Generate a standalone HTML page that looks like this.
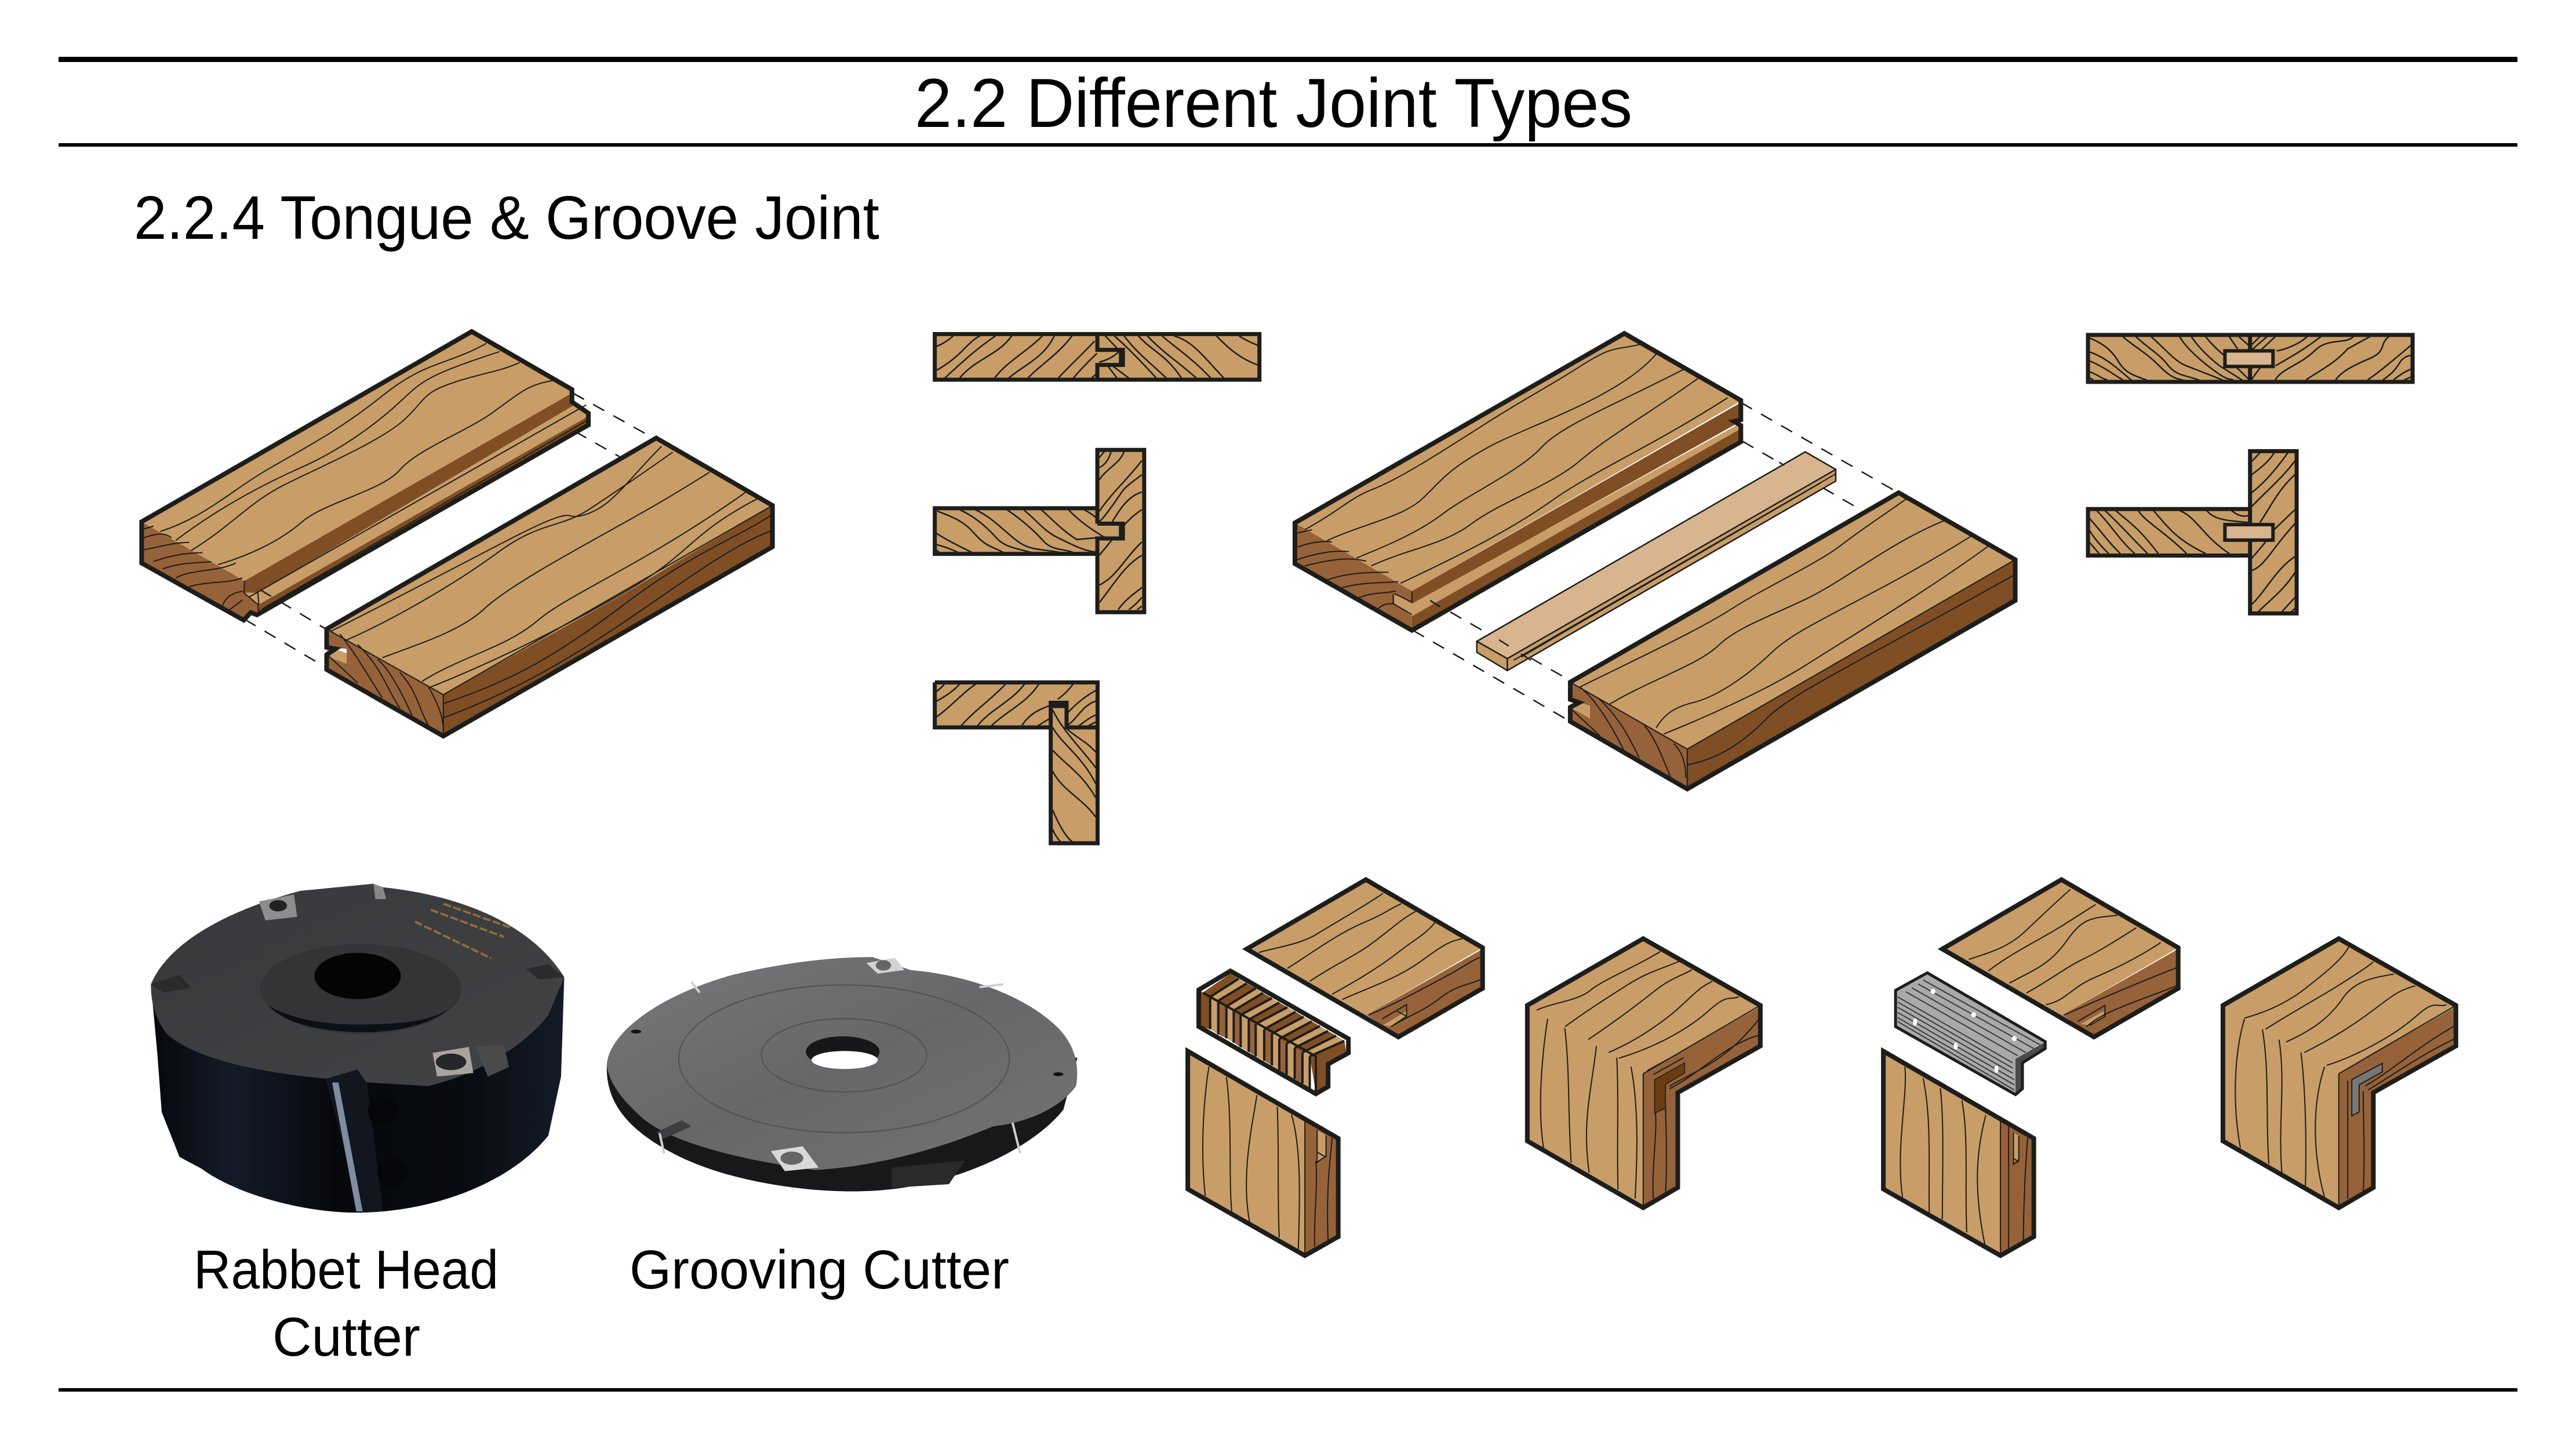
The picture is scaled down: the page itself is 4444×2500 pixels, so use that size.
<!DOCTYPE html>
<html><head><meta charset="utf-8"><title>2.2 Different Joint Types</title>
<style>
html,body{margin:0;padding:0;background:#fff}
svg{display:block}
svg *{vector-effect:non-scaling-stroke}
text{font-family:"Liberation Sans",sans-serif;fill:#000}
.g{fill:none;stroke:#1d1d1b;stroke-width:2}
.x{fill:none;stroke:#1d1d1b;stroke-width:2.5}
.o{fill:none;stroke:#1d1d1b;stroke-width:8;stroke-linejoin:miter}
.s{fill:none;stroke:#1d1d1b;stroke-width:7;stroke-linejoin:miter}
.t{fill:none;stroke:#1d1d1b;stroke-width:2.5;stroke-linejoin:miter}
.d{fill:none;stroke:#1d1d1b;stroke-width:2.5;stroke-dasharray:22 18}
.a{fill:#c89d68}.b{fill:#96623a}.c{fill:#7f4e24}.l{fill:#d8b58f}
</style></head><body>
<svg xmlns="http://www.w3.org/2000/svg" width="4444" height="2500" viewBox="0 0 4444 2500">
<defs>
<linearGradient id="bd" x1="0" x2="1" y1="0" y2="0"><stop offset="0" stop-color="#06080c"/><stop offset=".2" stop-color="#141b28"/><stop offset=".45" stop-color="#06080c"/><stop offset=".75" stop-color="#080b10"/><stop offset="1" stop-color="#141b28"/></linearGradient>
<linearGradient id="fc" x1="0" x2="1" y1="0" y2="1"><stop offset="0" stop-color="#37383b"/><stop offset="1" stop-color="#424345"/></linearGradient>
<linearGradient id="gf" x1="0" x2="1" y1="0" y2="1"><stop offset="0" stop-color="#77787a"/><stop offset=".5" stop-color="#666769"/><stop offset="1" stop-color="#737476"/></linearGradient>
</defs>
<rect width="4444" height="2500" fill="#fff"/>
<rect x="101" y="98" width="4242" height="9" fill="#000"/>
<rect x="101" y="247" width="4242" height="6" fill="#000"/>
<rect x="101" y="2395" width="4242" height="6" fill="#000"/>
<text x="1578" y="219" font-size="120" textLength="1238" lengthAdjust="spacingAndGlyphs">2.2 Different Joint Types</text>
<text x="231" y="412" font-size="106" textLength="1286" lengthAdjust="spacingAndGlyphs">2.2.4 Tongue &amp; Groove Joint</text>
<text x="334" y="2223" font-size="95" textLength="526" lengthAdjust="spacingAndGlyphs">Rabbet Head</text>
<text x="470" y="2339" font-size="95" textLength="255" lengthAdjust="spacingAndGlyphs">Cutter</text>
<text x="1086" y="2223" font-size="95" textLength="655" lengthAdjust="spacingAndGlyphs">Grooving Cutter</text>

<!-- Z1 tongue & groove -->
<g transform="translate(200,520) scale(.7653,.5102)">
<path class="d" d="M1030,310L1215,465M1035,440L1135,525M325,975L470,1105M290,1075L470,1235"/>
<polygon class="b" points="58,745 290,945 288,1078 58,885"/>
<polygon class="b" points="288,985 322,1025 322,1060 304,1052 288,1078"/>
<polygon class="a" points="58,745 802,102 1028,298 1028,310 290,945"/>
<polygon class="c" points="290,945 1028,310 1028,340 1036,348 320,985 288,985"/>
<polygon class="a" points="320,985 1036,348 1065,378 1065,388 322,1025 288,985"/>
<polygon class="c" points="322,1025 1065,388 1065,418 318,1060 322,1060"/>
<path class="g" d="M100,778C200,730 260,640 340,570S500,440 600,320S740,220 835,142M135,808C230,700 330,620 420,560S590,410 640,340S700,250 865,170M170,842C260,760 300,680 380,620S600,470 650,400S690,310 760,275S860,240 910,207M230,890C300,860 370,810 420,745S600,640 640,570S790,440 850,375S930,280 985,268"/>
<path class="g" d="M62,770L85,760M62,800C90,785 110,780 125,800M62,840C100,830 130,815 165,815M85,880C120,860 160,850 195,850M105,905C150,880 190,885 215,880M135,935C170,905 230,915 270,885M165,965C210,945 250,955 285,935M240,1030C250,990 270,985 285,980M250,1050L285,1010"/>
<path class="g" d="M290,945L288,985L320,1025L322,1060M320,985L322,1025M330,1040L1065,400M300,1000L1060,350"/>
<polygon class="o" points="58,745 802,102 1028,298 1028,340 1065,378 1065,418 318,1060 304,1052 288,1078 58,885"/>
<polygon class="c" points="738,1330 1150,975 1300,845 1480,690 1480,830 738,1470"/>
<polygon class="a" points="475,1108 1218,462 1480,690 1300,850 1150,985 738,1330"/>
<polygon class="b" points="475,1108 738,1330 738,1470 475,1245 475,1200 520,1225 520,1175 475,1170"/>
<polygon class="a" points="475,1200 475,1180 495,1175 520,1190 520,1225"/>
<path class="g" d="M485,1115C560,1060 700,950 880,810S1000,750 1060,720S1150,610 1230,490M520,1145C620,1080 760,960 860,850S1000,770 1070,700S1170,600 1255,510M600,1205C700,1150 780,1110 830,1040S1000,870 1120,770S1260,650 1338,578M690,1285C780,1200 880,1170 950,1080S1190,890 1420,645M708,1305C850,1220 1000,1110 1150,980S1290,790 1445,668"/>
<path class="g" d="M738,1360C900,1280 1000,1190 1150,1020S1400,800 1478,722M738,1408C880,1330 1000,1230 1130,1100S1380,830 1478,775"/>
<path class="g" d="M505,1125C540,1190 570,1270 600,1340M545,1160C600,1240 610,1310 640,1375M590,1210C620,1250 650,1340 670,1410M640,1255C680,1320 680,1370 705,1435M705,1305C730,1370 740,1420 738,1460M480,1200L545,1290"/>
<polygon class="o" points="475,1108 1218,462 1480,690 1480,830 738,1470 475,1245 475,1195 495,1175 475,1170"/>
<path class="g" d="M475,1108L738,1330L1480,690M738,1330V1470"/>
<path class="d" d="M325,975L375,1020M1030,310L1060,335"/>
</g>

<!-- Z2 cross sections -->
<g transform="translate(1580,540) scale(.4082,.6059)">
<rect class="a" x="80" y="60" width="1372" height="130"/>
<path class="x" d="M88,95Q125,85 158,65M88,163Q150,140 200,105T272,65M118,188C180,150 240,110 337,65M182,188C250,130 350,120 405,65M330,188C380,140 470,110 535,65M388,188C450,150 540,130 585,65M470,188C520,150 600,120 660,65M598,188C650,150 700,120 755,80M662,188Q710,150 765,115M738,188L760,175M800,65L850,100M838,65Q900,100 1020,188M880,65C930,110 970,130 1063,188M940,65C1000,110 1060,120 1125,188M978,65C1040,110 1110,140 1190,188M1040,65C1100,100 1170,130 1250,188M1090,65C1170,80 1210,120 1305,188M1270,65C1320,100 1370,130 1445,148M1365,65Q1400,80 1445,92M810,150L853,188M830,150L905,188"/>
<rect class="s" x="80" y="60" width="1372" height="130"/>
<polygon class="a" points="770,110 858,110 858,140 770,140"/>
<path class="x" d="M775,140Q830,130 858,110"/>
<path class="s" d="M767,60V105H875V148H767V190"/>
<rect x="858" y="102" width="23" height="50" fill="#1d1d1b"/>

<rect class="a" x="770" y="390" width="195" height="462"/>
<rect class="a" x="80" y="556" width="690" height="130"/>
<path class="x" d="M90,564C150,580 200,590 250,630S350,670 378,686M185,560C250,580 300,610 340,640S430,670 510,686M250,560C320,580 370,620 430,650S540,670 635,686M385,560C450,590 500,620 540,650S640,670 675,686M455,560C510,590 540,620 600,640S720,680 760,680M530,560C580,590 620,620 680,645L765,640M645,560Q700,600 800,640M710,560Q740,570 765,585M88,628C140,650 200,670 250,686M88,660C120,665 160,675 190,686M88,675L105,686"/>
<path class="x" d="M775,412L800,392M775,440Q810,430 825,395M775,475C810,440 860,430 880,395M775,565C830,510 900,470 955,420M775,595C800,580 850,530 870,510S940,470 955,460M830,595C860,560 900,520 955,510M880,605Q910,580 955,560M775,690Q800,670 830,645M775,775C850,750 880,700 955,652M775,825C840,770 880,720 955,690M855,845C880,820 920,800 955,782M900,845Q930,830 955,810M935,845L955,835"/>
<path class="s" d="M767,600V390H965V852H767V642H875V600H767M767,556H80V686H767"/>
<rect x="858" y="596" width="23" height="50" fill="#1d1d1b"/>

<rect class="a" x="80" y="1052" width="688" height="128"/>
<rect class="a" x="570" y="1180" width="198" height="330"/>
<path class="x" d="M88,1078L120,1058M88,1105C130,1090 170,1070 185,1056M88,1150C150,1120 200,1080 255,1056M188,1178C250,1130 320,1100 380,1056M258,1178C310,1130 400,1110 460,1056M315,1178C390,1130 470,1110 520,1056M445,1178C480,1140 520,1130 565,1118M510,1178L565,1155M600,1100Q640,1080 665,1056M640,1140C680,1110 720,1090 760,1075M640,1175C690,1150 700,1120 760,1105M690,1175C720,1160 740,1150 760,1145M730,1175L760,1165"/>
<path class="x" d="M640,1185C680,1210 720,1220 760,1250M578,1130C620,1190 700,1240 760,1295M578,1180C620,1230 700,1260 760,1340M578,1245C640,1290 700,1310 760,1380M578,1305C620,1360 700,1380 760,1435M578,1415C600,1450 630,1490 660,1505M578,1470Q590,1490 610,1505"/>
<path class="s" d="M80,1052H768V1510H570V1110H637V1180H768M570,1180H80V1052"/>
<rect x="566" y="1105" width="76" height="20" fill="#1d1d1b"/>
</g>

<!-- Z3 spline joint -->
<g transform="translate(2200,540) scale(.8482,.5421)">
<path class="d" d="M947,285L1265,570M950,408L1195,630M280,1010L600,1300M315,915L600,1170"/>
<polygon class="b" points="40,668 278,885 278,1010 40,798"/>
<polygon class="a" points="40,668 710,65 947,280 278,885"/>
<polygon class="c" points="278,885 947,285 947,345 278,928"/>
<polygon class="a" points="278,925 947,350 947,368 278,965"/>
<polygon class="c" points="278,965 947,368 947,408 278,1010"/>
<polygon class="a" points="242,893 278,925 278,965 242,925"/>
<path class="g" d="M240,895V925L278,960M278,885V920L242,893"/>
<path class="g" d="M60,690C140,620 150,590 200,560S330,450 420,360S550,240 620,170S690,120 742,100M105,725C180,670 260,650 300,590S350,500 430,430S700,270 775,130M165,780C220,745 290,700 340,640S500,500 540,430S680,300 830,180M195,805C270,750 340,740 400,670S560,550 620,470S760,320 860,208M255,860C350,790 470,700 560,600S760,430 920,270"/>
<path class="g" d="M45,700L75,690M45,745C80,725 110,725 115,730M45,785C90,760 130,755 150,760M60,805C110,785 150,775 185,790M105,850C150,825 200,825 230,825M135,875C180,855 220,860 250,855M165,910C200,885 220,895 245,885M205,950C215,925 230,925 242,925"/>
<polygon class="o" points="40,668 710,65 947,278 947,340 933,345 947,358 947,410 278,1010 40,798"/>
<polygon class="a" points="410,1045 472,1100 472,1138 410,1080"/>
<polygon class="a" points="472,1100 1140,498 1140,535 472,1138"/>
<polygon class="l" points="410,1045 1078,442 1140,498 472,1100"/>
<path class="g" d="M485,1105L1140,512M500,1095L1110,540"/>
<polygon class="t" points="410,1045 1078,442 1140,498 1140,535 472,1138 410,1080"/>
<path class="t" d="M410,1045L472,1100L1140,498M472,1100V1138"/>
<polygon class="c" points="838,1388 1505,785 1505,915 838,1515"/>
<polygon class="a" points="600,1175 1268,572 1505,785 838,1388"/>
<polygon class="b" points="600,1175 838,1388 838,1515 600,1300 600,1255 640,1290 640,1250 600,1230"/>
<polygon class="a" points="600,1255 620,1240 640,1250 640,1290"/>
<path class="g" d="M620,1190C750,1090 860,1010 930,940S1100,800 1150,740S1250,630 1285,590M680,1245C760,1170 860,1120 900,1060S1000,970 1080,910S1250,730 1365,658M775,1320C790,1280 810,1255 850,1240S950,1170 1010,1080S1200,920 1418,708M790,1340C870,1290 1000,1200 1080,1120S1330,880 1452,740"/>
<path class="g" d="M838,1438C900,1420 950,1370 1000,1290S1200,1100 1505,832"/>
<path class="g" d="M620,1190C650,1230 680,1300 710,1395M660,1230C700,1290 720,1350 740,1415M750,1310C780,1370 790,1430 805,1480M810,1370C830,1400 835,1440 835,1480M605,1265L660,1345"/>
<polygon class="o" points="600,1175 1268,572 1505,785 1505,915 838,1515 600,1300 600,1255 618,1240 600,1230"/>
<path class="g" d="M600,1175L838,1388L1505,785M838,1388V1515"/>
<path class="d" d="M455,1040L475,1060M500,1085L520,1105M315,915L335,935M1025,475L1035,485"/>
</g>

<!-- Z4 spline sections -->
<g transform="translate(3560,540) scale(.4082,.3444)">
<rect class="a" x="103" y="110" width="1372" height="235"/>
<path class="x" d="M110,125C160,150 200,180 230,240S290,310 360,340M110,195C170,220 210,260 250,300S280,330 290,340M110,240C170,270 200,300 250,335M110,295C140,305 160,330 185,335M110,325L125,335M250,118C300,170 350,200 400,260S470,330 520,340M305,118C350,170 400,200 440,260S520,310 580,340M370,118C420,170 470,240 510,260S620,310 680,340M490,118C520,180 590,250 650,300S700,320 720,340M540,118C580,190 650,260 680,280L760,340M600,118C640,180 690,220 720,260L785,335M700,118L735,180M740,118L785,165"/>
<path class="x" d="M790,165L830,118M795,185L860,118M830,190L895,118M900,190C950,180 1000,150 1030,118M895,265C930,240 1010,190 1088,118M895,335C920,280 1000,260 1060,190S1190,160 1225,118M1025,335C1080,290 1150,250 1200,180L1295,118M1150,335C1170,300 1210,270 1290,230S1330,160 1375,118M1285,335C1330,300 1400,230 1470,160M1350,335C1380,310 1400,290 1420,250S1470,215 1470,210M1395,335C1420,310 1450,290 1470,280M1440,335L1470,320M790,340L830,275M790,285L800,270"/>
<rect class="s" x="103" y="110" width="1372" height="235"/>
<path class="s" d="M788,110V345"/>
<rect class="l" x="682" y="190" width="203" height="78" stroke="#1d1d1b" stroke-width="6"/>
<rect x="788" y="692" width="197" height="813" class="a"/>
<rect x="103" y="982" width="685" height="233" class="a"/>
<path class="x" d="M110,1030C150,1080 190,1150 240,1205M110,1090C130,1130 160,1170 190,1205M110,1150L150,1205M140,990C200,1060 230,1130 300,1205M175,990C240,1060 290,1130 355,1205M220,990C280,1050 320,1080 400,1205M315,990C350,1050 420,1090 520,1205M380,990C440,1070 470,1130 600,1205M490,990C560,1020 590,1120 700,1205M605,990C640,1040 700,1040 785,1050M710,990C740,1020 760,1020 785,1015M790,750L830,700M795,810C840,770 870,740 890,700M795,900C850,850 900,780 948,700M795,970C850,900 930,820 978,740M830,1050C870,980 910,880 978,810M890,1085L978,985M795,1230L855,1145M795,1290C850,1270 880,1180 978,1055M795,1460C850,1400 900,1280 978,1220M820,1500C870,1440 930,1390 978,1300M920,1500L978,1425M960,1500L978,1480"/>
<path class="s" d="M788,1052V692H985V1505H788V1140M788,982H103V1215H788"/>
<rect class="l" x="682" y="1060" width="203" height="78" stroke="#1d1d1b" stroke-width="6"/>
</g>

<!-- Z5 cutters -->
<g transform="translate(200,1490) scale(1.097,.4082)">
<path fill="url(#bd)" d="M55,510L65,800L72,1050L100,1240L135,1290C190,1400 300,1480 385,1475C500,1470 620,1350 680,1150L700,900L705,480Z"/>
<path fill="url(#fc)" d="M55,510C80,350 160,210 290,115L405,85L420,100C530,130 650,240 705,480L680,640C640,780 560,900 490,940L395,925L335,910C250,890 130,840 80,720C60,650 55,580 55,510Z"/>
<ellipse cx="385" cy="530" rx="158" ry="190" fill="#333436"/>
<path d="M240,600C270,690 340,715 400,712C470,705 520,650 538,570C520,660 460,680 380,680C320,680 270,650 240,600Z" fill="#0c0f15"/>
<ellipse cx="380" cy="475" rx="68" ry="98" fill="#040404"/>
<polygon points="225,160 280,130 285,225 235,240" fill="#8d8d8d"/><ellipse cx="255" cy="178" rx="14" ry="24" fill="#222"/>
<polygon points="498,800 555,775 562,885 505,900" fill="#a9a49d"/><ellipse cx="527" cy="838" rx="24" ry="35" fill="#26272a"/>
<polygon points="565,775 610,765 618,860 585,900" fill="#4a4a4c"/>
<polygon points="55,510 100,470 118,525 75,545" fill="#2a2b2d"/>
<polygon points="645,445 680,425 705,480 665,490" fill="#2a2b2d"/>
<polygon points="330,910 380,870 395,930 420,1470 385,1475" fill="#12161f"/>
<polygon points="340,925 350,925 388,1470 378,1470" fill="#7e8da0"/>
<ellipse cx="420" cy="1045" rx="24" ry="60" fill="#050608"/><ellipse cx="435" cy="1305" rx="24" ry="60" fill="#050608"/>
<polygon points="405,85 420,100 425,150 408,150" fill="#888"/>
<path d="M515,170L620,270M495,195L610,310M470,245L590,400" stroke="#8f6a3a" stroke-width="4" fill="none" stroke-dasharray="14 4"/>
<path fill="#17181a" d="M772,850C770,1000 800,1120 880,1230C960,1340 1080,1390 1170,1385C1310,1380 1440,1210 1490,1040L1512,820Z"/>
<path fill="url(#gf)" d="M772,850C775,720 850,560 970,470C1050,420 1120,395 1190,395L1250,450C1340,470 1430,560 1480,690C1510,770 1515,860 1510,940C1480,1050 1420,1100 1380,1110C1300,1200 1200,1280 1100,1295C1000,1260 880,1190 830,1080C800,1010 775,930 772,850Z"/>
<ellipse cx="1145" cy="825" rx="260" ry="312" fill="none" stroke="#505153" stroke-width="2"/>
<ellipse cx="1145" cy="810" rx="130" ry="155" fill="none" stroke="#505153" stroke-width="2"/>
<ellipse cx="1143" cy="795" rx="58" ry="65" fill="#17171a"/>
<ellipse cx="1146" cy="830" rx="52" ry="38" fill="#fff"/>
<polygon points="1180,420 1225,398 1240,450 1198,465" fill="#d0d2d3"/><ellipse cx="1207" cy="430" rx="12" ry="22" fill="#666"/>
<polygon points="1030,1215 1080,1195 1105,1285 1052,1300" fill="#d8d9da"/><ellipse cx="1063" cy="1245" rx="18" ry="28" fill="#666"/>
<polygon points="1220,1285 1335,1255 1310,1355 1220,1370" fill="#2a2a2d"/>
<polygon points="850,1135 890,1085 905,1110 860,1165" fill="#3c3d40"/>
<path d="M855,1140L862,1225M1410,1095L1422,1225M905,500L918,545M1358,522L1395,510" stroke="#cfd0d2" stroke-width="4" fill="none"/>
<circle cx="818" cy="710" r="8" fill="#111"/><circle cx="1482" cy="890" r="8" fill="#111"/>
</g>

<!-- Z6 biscuit -->
<g transform="translate(2000,1490) scale(.7015,.4464)">
<polygon class="b" points="510,585 795,330 795,482 588,670"/>
<polygon class="a" points="215,330 508,62 795,325 510,585 588,670"/>
<polygon class="a" points="550,625 608,570 608,590 572,630"/>
<path class="g" d="M548,600L608,545V590L570,630M585,570L608,590"/>
<path class="g" d="M245,343C300,320 350,310 390,270S500,170 550,115M315,405C380,340 440,270 500,230S560,180 595,155M370,455C430,390 480,360 530,300S600,210 630,185M425,505C500,440 550,390 590,340S650,280 678,228M450,525C530,470 590,440 650,370S720,300 745,290M515,585C570,550 640,490 700,440S770,370 795,360M570,630C610,590 650,570 690,520S760,470 795,445"/>
<polygon class="o" points="215,330 508,62 795,325 795,482 588,670"/>
<g>
<polygon class="c" points="108,497 175,425 195,445 125,515"/>
<polygon class="a" points="125,515 195,445 215,463 145,530"/>
<polygon class="c" points="145,530 215,463 237,482 165,552"/>
<polygon class="a" points="165,552 237,482 255,500 183,568"/>
<polygon class="c" points="183,568 255,500 277,520 200,585"/>
<polygon class="a" points="200,585 277,520 295,537 220,603"/>
<polygon class="c" points="220,603 295,537 315,555 237,620"/>
<polygon class="a" points="237,620 315,555 335,573 258,640"/>
<polygon class="c" points="258,640 335,573 355,592 277,657"/>
<polygon class="a" points="277,657 355,592 375,610 295,677"/>
<polygon class="c" points="295,677 375,610 395,628 313,695"/>
<polygon class="a" points="313,695 395,628 415,647 333,712"/>
<polygon class="c" points="333,712 415,647 435,665 352,730"/>
<polygon class="a" points="352,730 435,665 455,685 370,745"/>
<polygon class="c" points="370,745 455,685 460,730 415,770 415,860 385,885"/>
<polygon class="c" points="100,490 125,515 125,640 100,628"/>
<polygon class="a" points="125,515 145,530 145,660 125,640"/>
<polygon class="b" points="145,530 165,552 165,675 145,660"/>
<polygon class="a" points="165,552 183,568 183,692 165,675"/>
<polygon class="b" points="183,568 200,585 200,710 183,692"/>
<polygon class="a" points="200,585 220,603 220,728 200,710"/>
<polygon class="b" points="220,603 237,620 237,745 220,728"/>
<polygon class="a" points="237,620 258,640 258,762 237,745"/>
<polygon class="b" points="258,640 277,657 277,780 258,762"/>
<polygon class="a" points="277,657 295,677 295,798 277,780"/>
<polygon class="b" points="295,677 313,695 313,815 295,798"/>
<polygon class="a" points="313,695 333,712 333,832 313,815"/>
<polygon class="b" points="333,712 352,730 352,850 333,832"/>
<polygon class="a" points="352,730 370,745 370,868 352,850"/>
<path d="M125,515V640M145,530V660M165,552V675M183,568V692M200,585V710M220,603V728M237,620V745M258,640V762M277,657V780M295,677V798M313,695V815M333,712V832M352,730V850M370,745V868M125,515L195,445M145,530L215,463M165,552L237,482M183,568L255,500M200,585L277,520M220,603L295,537M237,620L315,555M258,640L335,573M277,657L355,592M295,677L375,610M313,695L395,628M333,712L415,647M352,730L435,665M370,745L455,685" fill="none" stroke="#1d1d1b" stroke-width="4"/>
<polyline points="108,500 385,745 385,885" fill="none" stroke="#1d1d1b" stroke-width="4"/>
</g>
<polygon class="o" points="97,488 175,415 465,677 465,732 415,775 415,862 385,890 97,630"/>
<polygon class="a" points="70,725 358,985 358,1515 70,1258"/>
<polygon class="b" points="358,985 440,1062 440,1442 358,1515"/>
<polygon class="a" points="388,1030 410,1050 410,1130 388,1150"/>
<path class="g" d="M388,1030V1155L410,1130V1050M388,1115L410,1135M122,785C110,900 100,1100 113,1285M165,825C180,1000 170,1200 178,1345M240,895C230,1000 200,1200 222,1385M290,940C295,1100 290,1300 295,1445M325,970C350,1100 345,1300 342,1490M358,985V1515M425,1060C420,1150 410,1250 415,1460M385,1150C390,1250 380,1350 382,1480"/>
<polygon class="o" points="70,725 440,1062 440,1442 358,1515 70,1258"/>
<polygon class="b" points="1190,812 1478,552 1478,705 1272,885 1190,815"/>
<polygon class="b" points="1190,812 1272,885 1272,1252 1190,1330"/>
<polygon class="a" points="905,548 1190,290 1478,548 1190,812"/>
<polygon class="a" points="905,548 1190,812 1190,1330 905,1072"/>
<polygon points="1218,835 1292,770 1292,810 1245,853 1245,945 1218,965" fill="#6a3d10" stroke="#1d1d1b" stroke-width="1.5"/>
<path class="g" d="M928,567C960,540 1030,530 1060,490S1170,400 1232,340M998,630C1050,570 1100,520 1150,470S1230,410 1278,378M1055,680C1130,600 1180,540 1220,490S1290,430 1310,410M1105,730C1180,680 1250,600 1290,540S1340,470 1360,455M1130,752C1220,710 1300,640 1350,570S1400,530 1425,515M955,600C940,750 930,950 945,1100M997,635C1010,800 1005,1000 1013,1155M1075,705C1060,900 1040,1000 1057,1195M1125,750C1130,900 1125,1100 1128,1260M1160,785C1180,950 1175,1150 1170,1295M1190,812V1330M1190,812L1478,548M1215,1295C1210,1180 1225,1040 1220,965M1245,1275C1250,1120 1245,1000 1245,945M1255,860C1330,790 1390,770 1478,595M1255,870C1340,800 1390,700 1478,662M1200,800L1275,735M1215,815L1290,750"/>
<polygon class="o" points="905,548 1190,290 1478,548 1478,705 1275,885 1275,1252 1190,1330 905,1072"/>
</g>

<!-- Z7 metal -->
<g transform="translate(3200,1490) scale(.7015,.4464)">
<polygon class="b" points="510,585 795,330 795,482 588,670"/>
<polygon class="a" points="215,330 508,62 795,325 510,585 588,670"/>
<polygon class="a" points="555,620 612,570 612,590 575,625"/>
<path class="g" d="M548,610L615,548V590L578,625M280,370C340,340 380,320 420,260S500,140 530,100M328,415C390,340 460,290 510,240S570,180 592,158M380,462C440,410 480,390 520,300S580,210 645,200M422,500C480,450 520,400 560,370S650,290 692,248M470,545C520,530 530,480 590,440S710,350 752,305M515,585C580,540 680,470 795,400M570,630C610,570 700,530 795,470"/>
<polygon class="o" points="215,330 508,62 795,325 795,482 588,670"/>
<polygon points="100,490 178,422 468,688 468,715 412,770 412,870 395,893 100,630" fill="#a9a9a9"/>
<path d="M105,515L388,770M105,535L388,790M105,555L388,810M105,575L392,835M105,595L392,855M105,610L392,875M125,495L400,742M140,480L420,730M155,465L440,715M168,450L455,700" stroke="#3a3a3a" stroke-width="2" fill="none"/>
<polygon points="395,755 468,690 468,715 412,770 412,870 395,893" fill="#4a4a4a"/>
<ellipse cx="192" cy="494" rx="6" ry="10" fill="#fff"/><ellipse cx="292" cy="584" rx="6" ry="10" fill="#fff"/><ellipse cx="392" cy="676" rx="6" ry="10" fill="#fff"/>
<ellipse cx="148" cy="612" rx="5" ry="14" fill="#fff"/><ellipse cx="248" cy="705" rx="5" ry="14" fill="#fff"/><ellipse cx="348" cy="795" rx="5" ry="14" fill="#fff"/>
<polygon points="100,490 178,422 468,688 468,715 412,770 412,870 395,893 100,630" fill="none" stroke="#1d1d1b" stroke-width="5"/>
<polygon class="a" points="70,725 358,985 358,1515 70,1258"/>
<polygon class="b" points="358,985 440,1062 440,1442 358,1515"/>
<polygon class="a" points="390,1040 403,1052 403,1140 390,1155"/>
<path class="g" d="M390,1040V1162L403,1150V1052M390,1140L403,1152M123,785C130,900 100,1100 117,1290M168,830C190,1000 180,1200 183,1350M210,868C220,1000 215,1200 215,1375M263,915C280,1050 270,1250 275,1425M322,972C300,1100 290,1250 320,1475M358,985V1515M378,1005V1500M425,1060C420,1150 415,1300 414,1460"/>
<polygon class="o" points="70,725 440,1062 440,1442 358,1515 70,1258"/>
<polygon class="b" points="1190,812 1478,552 1478,705 1272,885 1190,815"/>
<polygon class="b" points="1190,812 1272,885 1272,1252 1190,1330"/>
<polygon class="a" points="905,548 1190,290 1478,548 1190,812"/>
<polygon class="a" points="905,548 1190,812 1190,1330 905,1072"/>
<polygon points="1222,835 1297,772 1297,805 1240,855 1240,960 1222,975" fill="#777" stroke="#1d1d1b" stroke-width="2"/>
<path class="g" d="M958,597C1020,570 1070,530 1110,480S1200,370 1215,320M1010,640C1080,570 1150,510 1190,470S1260,400 1275,380M1060,690C1130,640 1170,590 1200,520S1280,440 1325,427M1105,730C1170,680 1230,620 1280,560S1340,490 1378,472M1160,780C1240,740 1330,660 1380,590S1430,560 1455,545M958,600C930,750 930,950 948,1098M1002,640C1020,800 1010,1000 1018,1160M1043,680C1060,850 1040,1000 1050,1195M1097,730C1110,900 1110,1100 1108,1245M1155,785C1120,950 1130,1150 1155,1290M1190,812V1330M1190,812L1478,548M1212,840V1295M1250,1270C1255,1120 1250,1000 1250,880M1255,860C1330,790 1390,700 1478,625M1262,875C1330,810 1390,740 1478,675"/>
<polygon class="o" points="905,548 1190,290 1478,548 1478,705 1275,885 1275,1252 1190,1330 905,1072"/>
</g>
</svg>
</body></html>
